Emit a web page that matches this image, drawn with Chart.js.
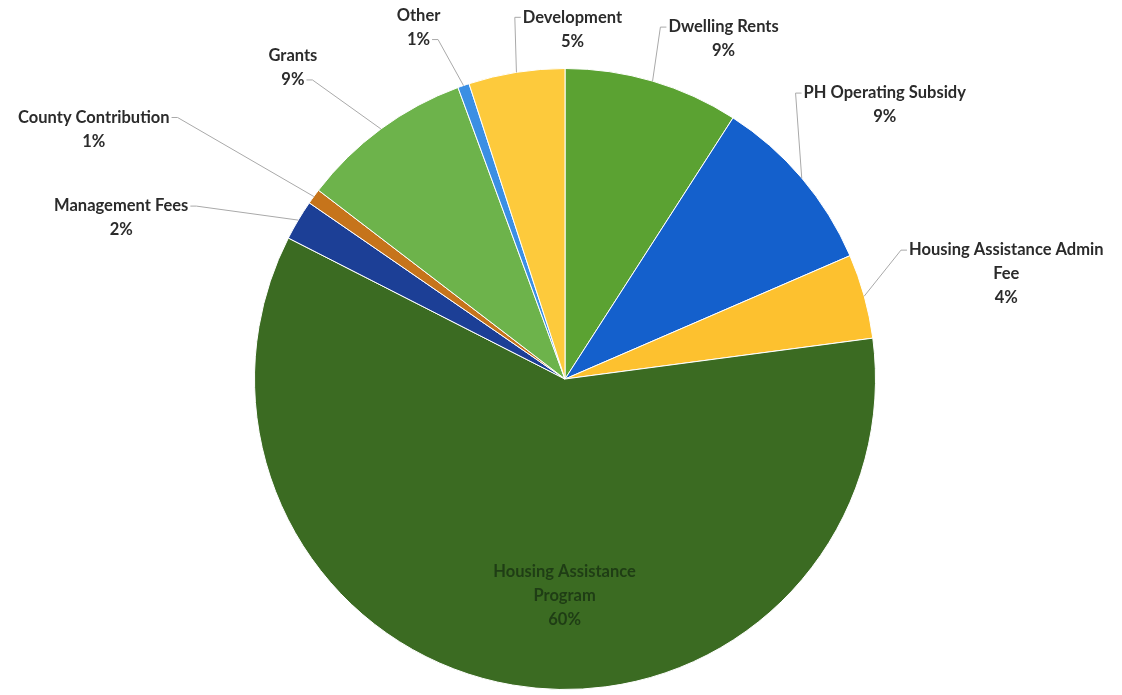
<!DOCTYPE html>
<html>
<head>
<meta charset="utf-8">
<script src="https://cdn.jsdelivr.net/npm/chart.js@4.4.0/dist/chart.umd.min.js"></script>
<style>
  html, body { margin: 0; padding: 0; background: #fff; }
  #wrap { width: 1122px; height: 695px; }
</style>
</head>
<body>
<div id="wrap"><canvas id="chart"></canvas></div>
<script>
const labels = [
  "Dwelling Rents",
  "PH Operating Subsidy",
  "Housing Assistance Admin Fee",
  "Housing Assistance Program",
  "Management Fees",
  "County Contribution",
  "Grants",
  "Other",
  "Development",
]

// share of revenue, percent
const values = [9.1, 9.4, 4.4, 59.6, 2.1, 0.8, 9.0, 0.6, 5.0]

const colors = [
  "#5ba232",
  "#1460cc",
  "#fdc12f",
  "#3b6b22",
  "#1c3f96",
  "#c6741b",
  "#6db34b",
  "#3b8fe4",
  "#fdca3c",
]

// how each label is broken into lines
const labelLines = [
  ["Dwelling Rents"],
  ["PH Operating Subsidy"],
  ["Housing Assistance Admin", "Fee"],
  ["Housing Assistance", "Program"],
  ["Management Fees"],
  ["County Contribution"],
  ["Grants"],
  ["Other"],
  ["Development"],
]

// label placement relative to the slice's outer edge at mid angle
// dx, dy: centre of first text line; side: where the leader meets the text
const labelLayout = [
  { dx: 71, dy: -54, side: "left", line: 0 },
  { dx: 83, dy: -85, side: "left", line: 0 },
  { dx: 142, dy: -46, side: "left", line: 0 },
  { dx: 52, dy: -113, inside: true },
  { dx: -177, dy: -14, side: "right", line: 0 },
  { dx: -220, dy: -79, side: "right", line: 0 },
  { dx: -88, dy: -73, side: "right", line: 1 },
  { dx: -45, dy: -70, side: "right", line: 1 },
  { dx: 56, dy: -55, side: "left", line: 0 },
]

const LINE_H = 24

const pieLabels = {
  id: "pieLabels",
  afterDatasetsDraw(chart) {
    const ctx = chart.ctx
    const arcs = chart.getDatasetMeta(0).data
    const total = values.reduce((a, b) => a + b, 0)
    ctx.save()
    ctx.font = "bold 16.5px Lato, 'Open Sans', sans-serif"
    ctx.textAlign = "center"
    ctx.textBaseline = "middle"
    arcs.forEach((arc, i) => {
      const mid = (arc.startAngle + arc.endAngle) / 2
      const ex = arc.x + Math.cos(mid) * arc.outerRadius
      const ey = arc.y + Math.sin(mid) * arc.outerRadius
      const lay = labelLayout[i]
      const lines = labelLines[i].concat([Math.round((values[i] / total) * 100) + "%"])
      const cx = ex + lay.dx
      const cy = ey + lay.dy

      if (!lay.inside) {
        const w = ctx.measureText(lines[lay.line]).width
        const ly = cy + lay.line * LINE_H
        const tx = lay.side === "left" ? cx - w / 2 - 2 : cx + w / 2 + 2
        const bx = lay.side === "left" ? tx - 6 : tx + 6
        ctx.strokeStyle = "#a9a9a9"
        ctx.lineWidth = 1
        ctx.beginPath()
        ctx.moveTo(ex, ey)
        ctx.lineTo(bx, ly)
        ctx.lineTo(tx, ly)
        ctx.stroke()
        ctx.fillStyle = "#2b2b2b"
      } else {
        ctx.fillStyle = "#1f3d15"
      }
      lines.forEach((t, k) => ctx.fillText(t, cx, cy + k * LINE_H))
    })
    ctx.restore()
  },
}

const config = {
  type: "pie",
  data: {
    labels: labels,
    datasets: [
      {
        data: values,
        backgroundColor: colors,
        borderColor: "#ffffff",
        borderWidth: 1,
      },
    ],
  },
  options: {
    responsive: true,
    maintainAspectRatio: false,
    animation: false,
    layout: {
      padding: { top: 68, bottom: 5, left: 254, right: 246 },
    },
    plugins: {
      legend: { display: false },
      tooltip: { enabled: false },
    },
  },
  plugins: [pieLabels],
}

const myChart = new Chart(document.getElementById("chart"), config)
</script>
</body>
</html>
